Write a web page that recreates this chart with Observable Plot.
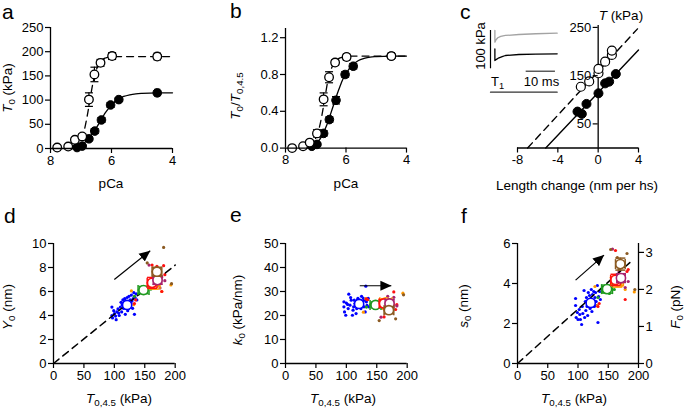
<!DOCTYPE html>
<html><head><meta charset="utf-8">
<script src="https://cdn.jsdelivr.net/npm/d3@7"></script>
<script src="https://cdn.jsdelivr.net/npm/@observablehq/plot@0.6"></script>
<style>
body{margin:0;background:#fff;}
#fig{position:relative;width:685px;height:412px;font-family:Arial,"Liberation Sans",sans-serif;color:#000;overflow:hidden;background:#fff}
#fig svg{position:absolute;overflow:visible}
.lbl{position:absolute;white-space:nowrap;line-height:1;color:#000}
.lbl sub{font-size:0.72em;vertical-align:-0.28em;line-height:0}
.letter{position:absolute;font-size:21px;line-height:1}
</style></head><body><div id="fig"></div>
<script>
// ---------------- DATA ----------------
// Panels a & b : pCa relations (open = dashed fit, filled = solid fit)
const pCaOpen      = [7.78, 7.42, 7.20, 6.96, 6.74, 6.56, 6.36, 5.98, 4.50];
const T0Open       = [2, 4, 18, 25, 101, 153, 177, 191, 190];
const T0OpenErr    = [0, 0, 3, 5, 14, 15, 7, 7, 4];
const pCaOpenErr   = [0, 0, 0, 0, 0.06, 0.05, 0.05, 0.09, 0.10];
const pCaFilled    = [7.13, 6.96, 6.74, 6.55, 6.33, 6.03, 5.76, 4.50];
const T0Filled     = [2, 5, 20, 36, 59, 90, 101, 115];
const T0FilledErr  = [2, 3, 4, 5, 5, 5, 4, 4];
const pCaFilledErr = [0.04, 0.04, 0.05, 0.05, 0.05, 0.05, 0.05, 0.08];
const normOpen      = [0.00, 0.02, 0.06, 0.16, 0.53, 0.77, 0.93, 0.99, 1.00];
const normOpenErr   = [0, 0, 0.02, 0.04, 0.07, 0.06, 0.03, 0.03, 0.02];
const normFilled    = [0.02, 0.04, 0.16, 0.31, 0.52, 0.80, 0.89, 1.00];
const normFilledErr = [0.02, 0.02, 0.03, 0.03, 0.04, 0.03, 0.03, 0.02];
// fitted curves
const fitPCa      = [7.3, 7.2, 7.1, 7.0, 6.9, 6.8, 6.7, 6.6, 6.5, 6.4, 6.3, 6.2, 6.1, 6.0, 5.8, 5.6, 5.4, 5.2, 5.0, 4.5, 4.0];
const fitAOpen    = [4, 7, 11, 19, 36, 66, 103, 138, 162, 176, 183.5, 187, 189, 190, 190, 190, 190, 190, 190, 190, 190];
const fitAFilled  = [2.5, 3.5, 5, 7.5, 11.5, 17, 24.5, 33, 42.5, 53, 63.5, 74, 82.5, 90, 101, 107.5, 111, 113, 114, 115, 115];
const fitBOpen    = [0.02, 0.04, 0.07, 0.11, 0.2, 0.35, 0.54, 0.73, 0.85, 0.92, 0.96, 0.98, 0.99, 0.995, 1, 1, 1, 1, 1, 1, 1];
const fitBFilled  = [0.015, 0.02, 0.035, 0.05, 0.08, 0.13, 0.2, 0.28, 0.38, 0.48, 0.58, 0.67, 0.75, 0.81, 0.9, 0.95, 0.975, 0.99, 0.995, 1, 1];

// Panel c : T1 relations
const lenOpen    = [-1.72, -0.89, 0.03, 0.03, 0.69, 1.36, 1.36];
const TcOpen     = [127, 138, 155, 164, 179, 193, 202];
const lenFilled  = [-2.05, -1.62, -1.16, 0.03, 0.69, 1.09, 1.75];
const TcFilled   = [75.5, 70.7, 91.4, 113.4, 134, 137.6, 153.4];
const fitOpenLen = [-7.0, 3.9],  fitOpenT = [0, 247];
const fitFillLen = [-5.2, 4.0],  fitFillT = [0, 203];
// inset traces (time ms, tension kPa, traces offset for display)
const insetTimeGray  = [0, 0, 0.4, 1, 2, 3.6, 8.2, 14, 21.3];
const insetGray      = [190, 159.5, 166, 171, 174.5, 177, 179.6, 181.5, 183];
const insetTimeBlack = [0, 0, 0.4, 1.4, 2.5, 3.6, 8.2, 14, 21.3];
const insetBlack     = [142, 111.5, 114, 118.7, 122, 124.7, 127.3, 128.3, 129];
const insetLengthT   = [-1.5, 21.3], insetLength = [29, 29];
const scaleBarKPa    = [90, 190];   // 100 kPa
const scaleBarMs     = [10.7, 20.7]; // 10 ms

// Panels d-f : individual fibres (T0,4.5, Y0, k0, s0) by group
const groupColors = ["#0000ff", "#1f9a1f", "#ff9900", "#ff1010", "#a8246e", "#8b5a22"];
const blueT  = [96, 96, 97, 99, 100, 102, 103, 104, 106, 107, 108, 110, 111, 112, 113, 114, 115, 116, 117, 118, 119, 120, 121, 122, 123, 124, 125, 126, 127, 128, 129, 130, 131, 132, 133, 134, 136, 137];
const blueY0 = [4.7, 4.0, 3.8, 4.4, 4.15, 3.95, 3.65, 4.3, 4.55, 4.2, 4.0, 4.7, 5.1, 4.3, 4.9, 5.3, 4.6, 5.0, 5.4, 4.1, 5.2, 4.7, 5.5, 4.4, 5.1, 5.6, 4.8, 5.3, 5.0, 5.7, 5.2, 4.6, 5.4, 5.9, 4.1, 5.5, 5.8, 5.3];
const blueK0 = [25.7, 23.6, 21.5, 20.1, 25.2, 24.6, 22.9, 28.9, 24.3, 27.5, 26.4, 20.1, 22.2, 23.6, 26.4, 25.0, 24.0, 20.8, 22.9, 26.4, 27.1, 23.6, 25.7, 26.4, 25.0, 22.9, 28.0, 24.5, 25.7, 27.1, 23.6, 26.4, 21.5, 32.2, 25.7, 24.2, 27.1, 23.6];
const blueS0 = [3.25, 2.9, 2.3, 2.55, 2.2, 2.7, 2.45, 2.2, 1.95, 2.85, 2.5, 3.65, 2.3, 3.1, 2.65, 3.3, 2.85, 2.4, 3.55, 3.0, 3.4, 2.75, 3.2, 3.7, 2.6, 3.45, 3.0, 3.6, 2.85, 3.3, 3.55, 3.1, 2.9, 3.9, 2.05, 3.35, 3.6, 3.2];
const greenT  = [133, 140, 146, 152, 157, 160];
const greenY0 = [5.6, 5.8, 6.4, 5.9, 6.5, 6.2];
const greenK0 = [23.5, 24.5, 23.0, 25.5, 24.0, 23.5];
const greenS0 = [3.3, 3.6, 3.9, 3.5, 3.95, 3.7];
const orangeT  = [128, 132, 155, 160, 166, 172, 178, 193];
const orangeY0 = [6.05, 4.9, 6.3, 6.9, 7.2, 6.5, 6.0, 6.55];
const orangeK0 = [21.4, 27.0, 26.5, 23.0, 25.5, 26.0, 24.5, 29.3];
const orangeS0 = [3.85, 2.9, 4.3, 4.05, 4.35, 3.9, 3.7, 3.58];
const redT  = [133, 135, 145, 160, 162, 170, 175, 178, 181, 183];
const redY0 = [5.0, 5.3, 5.9, 6.4, 8.2, 8.1, 6.7, 6.0, 8.15, 7.4];
const redK0 = [26.9, 26.6, 24.5, 25.5, 19.4, 21.0, 26.0, 29.8, 22.5, 24.5];
const redS0 = [2.85, 3.0, 3.6, 4.0, 5.65, 4.9, 4.1, 3.2, 4.6, 4.7];
const magentaT  = [157, 165, 168, 175, 178, 183];
const magentaY0 = [8.2, 6.6, 7.5, 6.3, 7.2, 6.9];
const magentaK0 = [19.3, 25.0, 28.0, 26.0, 27.6, 24.0];
const magentaS0 = [5.72, 4.0, 4.6, 4.4, 3.8, 4.1];
const brownT  = [154, 165, 168, 175, 181, 194];
const brownY0 = [8.38, 7.9, 7.0, 7.3, 9.67, 6.65];
const brownK0 = [17.9, 22.0, 24.0, 21.5, 18.6, 28.6];
const brownS0 = [5.7, 5.3, 4.7, 5.0, 5.5, 3.7];
// group means ± SEM (blue, green, orange, red, magenta, brown)
const meanT    = [121, 148, 165, 162, 171, 170];
const meanTErr = [3, 9, 10, 8, 7, 8];
const meanY0   = [4.88, 6.12, 6.6, 6.72, 6.95, 7.65];
const meanY0Err= [0.15, 0.3, 0.4, 0.45, 0.35, 0.37];
const meanK0   = [24.8, 24.4, 25.5, 25.0, 25.0, 22.2];
const meanK0Err= [0.7, 1.2, 1.5, 1.6, 1.6, 1.5];
const meanS0   = [3.03, 3.72, 4.1, 4.18, 4.27, 4.97];
const meanS0Err= [0.12, 0.2, 0.28, 0.28, 0.22, 0.3];
// dashed proportionality lines and arrows
const fitY0T = [0, 200], fitY0 = [0, 8.2];
const fitS0T = [0, 187], fitS0 = [0, 5.08];
const arrowY0 = {T1: 100, v1: 7.0, T2: 159, v2: 9.4};
const arrowK0 = {T1: 122, v1: 32.4, T2: 174, v2: 32.4};
const arrowS0 = {T1: 96, v1: 4.17, T2: 143, v2: 5.42};
const F0PerNm = 0.54; // F0 (pN) per nm of s0

// tick values
const pCaTicks = [8, 6, 4];
const T0Ticks = [0, 50, 100, 150, 200, 250];
const normTicks = [0, 0.4, 0.8, 1.2];
const lenTicks = [-8, -4, 0, 4];
const TcTicks = [50, 150, 250];
const T45Ticks = [0, 50, 100, 150, 200];
const Y0Ticks = [0, 2, 4, 6, 8, 10];
const K0Ticks = [0, 10, 20, 30, 40, 50];
const S0Ticks = [0, 2, 4, 6];
const F0Ticks = [0, 1, 2, 3];

// ---------------- HELPERS ----------------
const FONT = 'Arial, "Liberation Sans", sans-serif';
const fig = document.getElementById("fig");
const PAD = 60;
function place(frame, x, y, marks, extra = {}) {
  const w = frame.x1 - frame.x0, h = frame.y1 - frame.y0;
  const svg = Plot.plot({
    width: w + 2 * PAD, height: h + 2 * PAD,
    marginLeft: PAD, marginRight: PAD, marginTop: PAD, marginBottom: PAD,
    x, y, marks,
    style: {background: "transparent", overflow: "visible", fontFamily: FONT, fontSize: "13px", color: "black"},
    ...extra
  });
  svg.style.position = "absolute";
  svg.style.left = (frame.x0 - PAD) + "px";
  svg.style.top = (frame.y0 - PAD) + "px";
  svg.style.maxWidth = "none";
  fig.appendChild(svg);
  return svg;
}
const fmt = d => String(d);
const axX = (ticks, o = {}) => Plot.axisX({ticks, tickSize: 5, tickPadding: 2, label: null, strokeWidth: 1.2, fontSize: 13, tickFormat: fmt, ...o});
const axY = (ticks, o = {}) => Plot.axisY({ticks, tickSize: 5, tickPadding: 2, label: null, strokeWidth: 1.2, fontSize: 13, tickFormat: fmt, ...o});
const hcap = {draw(ctx, size) { const r = Math.sqrt(size / Math.PI); ctx.moveTo(-r, 0); ctx.lineTo(r, 0); }};
const vcap = {draw(ctx, size) { const r = Math.sqrt(size / Math.PI); ctx.moveTo(0, -r); ctx.lineTo(0, r); }};
function errorMarks(rows, stroke, cap, sw) {
  const ry = rows.filter(d => d.ey > 0), rx = rows.filter(d => d.ex > 0);
  const o = {stroke, strokeWidth: sw};
  return [
    Plot.ruleX(ry, {x: "x", y1: d => d.y - d.ey, y2: d => d.y + d.ey, ...o}),
    Plot.dot(ry, {x: "x", y: d => d.y + d.ey, symbol: hcap, r: cap, fill: "none", ...o}),
    Plot.dot(ry, {x: "x", y: d => d.y - d.ey, symbol: hcap, r: cap, fill: "none", ...o}),
    Plot.ruleY(rx, {y: "y", x1: d => d.x - d.ex, x2: d => d.x + d.ex, ...o}),
    Plot.dot(rx, {x: d => d.x - d.ex, y: "y", symbol: vcap, r: cap, fill: "none", ...o}),
    Plot.dot(rx, {x: d => d.x + d.ex, y: "y", symbol: vcap, r: cap, fill: "none", ...o})
  ];
}
function zipRows(xs, ys, exs, eys) { return xs.map((x, i) => ({x, y: ys[i], ex: exs ? exs[i] : 0, ey: eys ? eys[i] : 0})); }
let arrowId = 0;
function arrowHeads(svg) {
  const s = d3.select(svg), id = "ahead" + (arrowId++);
  s.append("defs").append("marker").attr("id", id).attr("viewBox", "0 -5 10 10")
    .attr("refX", 10).attr("refY", 0).attr("markerWidth", 11).attr("markerHeight", 11)
    .attr("markerUnits", "userSpaceOnUse").attr("orient", "auto")
    .append("path").attr("d", "M0,-4.6L10,0L0,4.6Z").attr("fill", "black");
  s.selectAll('g[aria-label="link"] path').attr("marker-end", `url(#${id})`);
}
function txt(html, x, baseline, size = 13.5, anchor = "middle") {
  const d = document.createElement("div");
  d.className = "lbl"; d.innerHTML = html;
  d.style.fontSize = size + "px";
  d.style.left = x + "px";
  d.style.top = (baseline - 0.8465 * size) + "px";
  d.style.transform = anchor === "middle" ? "translateX(-50%)" : anchor === "end" ? "translateX(-100%)" : "none";
  fig.appendChild(d);
}
function rtxt(html, cx, cy, size = 13.5) {
  const d = document.createElement("div");
  d.className = "lbl"; d.innerHTML = html;
  d.style.fontSize = size + "px";
  d.style.left = cx + "px"; d.style.top = cy + "px";
  d.style.transform = "translate(-50%,-50%) rotate(-90deg)";
  fig.appendChild(d);
}
function letter(ch, left, top) {
  const d = document.createElement("div");
  d.className = "letter"; d.textContent = ch;
  d.style.left = left + "px"; d.style.top = top + "px";
  fig.appendChild(d);
}
const line2 = (xs, ys) => xs.map((x, i) => ({x, y: ys[i]}));

// ---------------- PANEL a ----------------
{
  const open = zipRows(pCaOpen, T0Open, pCaOpenErr, T0OpenErr);
  const filled = zipRows(pCaFilled, T0Filled, pCaFilledErr, T0FilledErr);
  place({x0: 50, x1: 172, y0: 26.7, y1: 147.7}, {domain: [8, 4]}, {domain: [0, 250]}, [
    Plot.line(line2(fitPCa, fitAFilled), {x: "x", y: "y", strokeWidth: 1.3, curve: "monotone-x"}),
    Plot.line(line2(fitPCa, fitAOpen), {x: "x", y: "y", strokeWidth: 1.3, strokeDasharray: "7,5", curve: "monotone-x"}),
    ...errorMarks(filled, "black", 4, 1.2),
    ...errorMarks(open, "black", 4, 1.2),
    Plot.dot(filled, {x: "x", y: "y", r: 4.3, fill: "black", stroke: "black", strokeWidth: 1}),
    Plot.dot(open, {x: "x", y: "y", r: 4.3, fill: "white", stroke: "black", strokeWidth: 1.3}),
    Plot.ruleX([8], {strokeWidth: 1.3}), Plot.ruleY([0], {strokeWidth: 1.3}),
    axX(pCaTicks), axY(T0Ticks)
  ]);
}
// ---------------- PANEL b ----------------
{
  const open = zipRows(pCaOpen, normOpen, pCaOpenErr, normOpenErr);
  const filled = zipRows(pCaFilled, normFilled, pCaFilledErr, normFilledErr);
  place({x0: 285, x1: 406, y0: 28.1, y1: 147.7}, {domain: [8, 4]}, {domain: [0, 1.3]}, [
    Plot.line(line2(fitPCa, fitBFilled), {x: "x", y: "y", strokeWidth: 1.3, curve: "monotone-x"}),
    Plot.line(line2(fitPCa, fitBOpen), {x: "x", y: "y", strokeWidth: 1.3, strokeDasharray: "7,5", curve: "monotone-x"}),
    ...errorMarks(filled, "black", 4, 1.2),
    ...errorMarks(open, "black", 4, 1.2),
    Plot.dot(filled, {x: "x", y: "y", r: 4.3, fill: "black", stroke: "black", strokeWidth: 1}),
    Plot.dot(open, {x: "x", y: "y", r: 4.3, fill: "white", stroke: "black", strokeWidth: 1.3}),
    Plot.ruleX([8], {strokeWidth: 1.3}), Plot.ruleY([0], {strokeWidth: 1.3}),
    axX(pCaTicks), axY(normTicks, {tickFormat: d3.format(".1f")})
  ]);
}
// ---------------- PANEL c ----------------
{
  const frame = {x0: 516.7, x1: 637.7, y0: 25, y1: 147.5};
  const xDom = [-8, 4];
  const dx = (0 - xDom[0]) / (xDom[1] - xDom[0]) * (frame.x1 - frame.x0);
  place(frame, {domain: xDom}, {domain: [0, 254]}, [
    Plot.line(line2(fitOpenLen, fitOpenT), {x: "x", y: "y", strokeWidth: 1.4, strokeDasharray: "7,5"}),
    Plot.line(line2(fitFillLen, fitFillT), {x: "x", y: "y", strokeWidth: 1.4}),
    Plot.ruleX([0], {strokeWidth: 1.3}), Plot.ruleY([0], {strokeWidth: 1.3}),
    Plot.dot(line2(lenFilled, TcFilled), {x: "x", y: "y", r: 4.5, fill: "black", stroke: "black", strokeWidth: 1}),
    Plot.dot(line2(lenOpen, TcOpen), {x: "x", y: "y", r: 4.5, fill: "white", stroke: "black", strokeWidth: 1.2}),
    axX(lenTicks), axY(TcTicks, {dx})
  ]);
  // inset traces
  place({x0: 490, x1: 556.7, y0: 30, y1: 93.2}, {domain: [-1.5, 21.3], axis: null}, {domain: [25, 190], axis: null}, [
    Plot.line(line2(insetTimeGray, insetGray), {x: "x", y: "y", stroke: "#a3a3a3", strokeWidth: 1.3}),
    Plot.line(line2(insetTimeBlack, insetBlack), {x: "x", y: "y", stroke: "black", strokeWidth: 1.3}),
    Plot.ruleX([insetLengthT[0]], {y1: scaleBarKPa[0], y2: scaleBarKPa[1], strokeWidth: 1.2}),
    Plot.ruleY([83.7], {x1: scaleBarMs[0], x2: scaleBarMs[1], stroke: "#333", strokeWidth: 1.2}),
    Plot.line(line2(insetLengthT, insetLength), {x: "x", y: "y", stroke: "#333", strokeWidth: 1.2})
  ]);
}
// ---------------- PANELS d, e, f ----------------
const groups = [
  [blueT, blueY0, blueK0, blueS0], [greenT, greenY0, greenK0, greenS0],
  [orangeT, orangeY0, orangeK0, orangeS0], [redT, redY0, redK0, redS0],
  [magentaT, magentaY0, magentaK0, magentaS0], [brownT, brownY0, brownK0, brownS0]
];
const pts = groups.flatMap(([T, Y, K, S], g) => T.map((t, i) => ({c: groupColors[g], T: t, Y0: Y[i], K0: K[i], S0: S[i]})));
const meanRows = (vals, errs) => groupColors.map((c, i) => ({c, x: meanT[i], ex: meanTErr[i], y: vals[i], ey: errs[i]}));
function scatterPanel(frame, key, yDomain, yTicks, meanVals, meanErrs, fit, arrow, extraMarks = []) {
  const means = meanRows(meanVals, meanErrs);
  const marks = [
    Plot.dot(pts, {x: "T", y: key, r: 1.6, fill: "c"}),
    ...(fit ? [Plot.line(fit, {x: "x", y: "y", strokeWidth: 1.5, strokeDasharray: "7,5"})] : []),
    Plot.link([arrow], {x1: "T1", y1: "v1", x2: "T2", y2: "v2", stroke: "black", strokeWidth: 1.2}),
    ...means.flatMap(m => [
      ...errorMarks([m], m.c, 5, 1.5),
      Plot.dot([m], {x: "x", y: "y", r: 4.6, fill: "white", stroke: m.c, strokeWidth: 1.6})
    ]),
    Plot.ruleX([0], {strokeWidth: 1.3}), Plot.ruleY([0], {strokeWidth: 1.3}),
    ...extraMarks,
    axX(T45Ticks), axY(yTicks)
  ];
  const svg = place(frame, {domain: [0, 200]}, {domain: yDomain}, marks, {color: {type: "identity"}});
  arrowHeads(svg);
}
scatterPanel({x0: 53.3, x1: 175, y0: 243.3, y1: 363.3}, "Y0", [0, 10], Y0Ticks, meanY0, meanY0Err, line2(fitY0T, fitY0), arrowY0);
scatterPanel({x0: 285, x1: 406.7, y0: 243.3, y1: 363.3}, "K0", [0, 50], K0Ticks, meanK0, meanK0Err, null, arrowK0);
scatterPanel({x0: 516.7, x1: 637.7, y0: 243.3, y1: 363.3}, "S0", [0, 6], S0Ticks, meanS0, meanS0Err, line2(fitS0T, fitS0), arrowS0, [Plot.ruleX([200], {strokeWidth: 1.3})]);
// right axis of f (F0)
place({x0: 516.7, x1: 637.7, y0: 243.3, y1: 363.3}, {domain: [0, 200], axis: null}, {domain: [0, 6 * F0PerNm]}, [
  Plot.axisY({ticks: F0Ticks, anchor: "right", tickSize: 5, tickPadding: 2, label: null, strokeWidth: 1.2, fontSize: 13, tickFormat: fmt})
]);

// ---------------- TEXT ----------------
letter("a", 2, 0.5); letter("b", 230, 0); letter("c", 460, 1);
letter("d", 4, 205); letter("e", 230, 204); letter("f", 461, 205);
txt("pCa", 111, 188.5); txt("pCa", 346, 188.5);
txt("Length change (nm per hs)", 577, 190);
txt("<i>T</i> (kPa)", 621, 20.5);
rtxt("<i>T</i><sub>0</sub> (kPa)", 8, 88);
rtxt("<i>T</i><sub>0</sub>/<i>T</i><sub>0,4.5</sub>", 236, 96);
txt("<i>T</i><sub>0,4.5</sub> (kPa)", 119, 403); txt("<i>T</i><sub>0,4.5</sub> (kPa)", 343, 403); txt("<i>T</i><sub>0,4.5</sub> (kPa)", 574, 403);
rtxt("<i>Y</i><sub>0</sub> (nm)", 8, 307);
rtxt("<i>k</i><sub>0</sub> (kPa/nm)", 237.5, 310);
rtxt("<i>s</i><sub>0</sub> (nm)", 464, 306);
rtxt("<i>F</i><sub>0</sub> (pN)", 675.5, 307);
rtxt("100 kPa", 480, 46, 13);
txt("T<sub>1</sub>", 491, 86, 13, "start");
txt("10 ms", 541.5, 86, 13);
</script></body></html>
